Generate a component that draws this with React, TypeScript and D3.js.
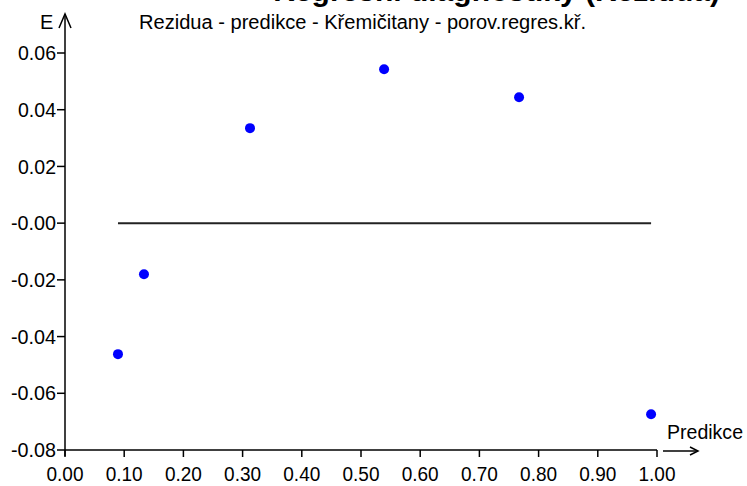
import React from "react";
import * as d3 from "d3";

const predictions = [0.0895, 0.1334, 0.3125, 0.539, 0.767, 0.99];
const residuals = [-0.0462, -0.018, 0.0335, 0.0543, 0.0444, -0.0674];
const xTicks = [0, 0.1, 0.2, 0.3, 0.4, 0.5, 0.6, 0.7, 0.8, 0.9, 1.0];
const yTicks = [-0.08, -0.06, -0.04, -0.02, 0, 0.02, 0.04, 0.06];
const title = "Rezidua - predikce - Křemičitany - porov.regres.kř.";
const topTitle = "Regresní diagnostiky (Rezidua)";
const xLabel = "Predikce";
const yLabel = "E";

const W = 747;
const H = 486;
const FONT = "'Liberation Sans', Arial, sans-serif";

export default function App() {
  const x = d3.scaleLinear().domain([0, 1]).range([65, 657]);
  const y = d3.scaleLinear().domain([-0.08, 0.06]).range([450, 53]);
  const x0 = x(0);
  const yBase = y(-0.08);
  const fmtY = (v: number) =>
    Math.abs(v) < 1e-9 ? "-0.00" : d3.format(".2f")(v).replace("\u2212", "-");
  const fmtX = d3.format(".2f");
  const minP = d3.min(predictions) as number;
  const maxP = d3.max(predictions) as number;

  return (
    <svg
      width={W}
      height={H}
      style={{ position: "absolute", left: 0, top: 0, background: "#fff" }}
      fontFamily={FONT}
    >
      <rect x={0} y={0} width={W} height={H} fill="#fff" />
      {/* clipped bold title at very top */}
      <text x={720} y={1} textAnchor="end" fontSize={30} fontWeight="bold" fill="#000">
        {topTitle}
      </text>
      {/* subtitle */}
      <text x={139} y={29} fontSize={20} fill="#000" textLength={447} lengthAdjust="spacingAndGlyphs">
        {title}
      </text>
      {/* y label */}
      <text x={40} y={29} fontSize={20} fill="#000">
        {yLabel}
      </text>
      {/* y axis */}
      <line x1={x0} x2={x0} y1={14} y2={456} stroke="#000" strokeWidth={1.5} />
      <polyline
        points={`${x0 - 6},28 ${x0},14 ${x0 + 6},28`}
        fill="none"
        stroke="#000"
        strokeWidth={1.5}
      />
      {yTicks.map((t) => (
        <g key={"y" + t}>
          <line x1={x0 - 8} x2={x0} y1={y(t)} y2={y(t)} stroke="#000" strokeWidth={1.5} />
          <text
            x={x0 - 9}
            y={y(t)}
            dy="0.36em"
            textAnchor="end"
            fontSize={20}
            fill="#000"
            textLength={t < 0 || Math.abs(t) < 1e-9 ? 45 : 38}
            lengthAdjust="spacingAndGlyphs"
          >
            {fmtY(t)}
          </text>
        </g>
      ))}
      {/* x axis */}
      <line x1={x0} x2={x(1)} y1={yBase} y2={yBase} stroke="#000" strokeWidth={1.5} />
      {xTicks.map((t) => (
        <g key={"x" + t}>
          <line x1={x(t)} x2={x(t)} y1={yBase} y2={yBase + 7} stroke="#000" strokeWidth={1.5} />
          <text
            x={x(t)}
            y={481}
            textAnchor="middle"
            fontSize={20}
            fill="#000"
            textLength={37}
            lengthAdjust="spacingAndGlyphs"
          >
            {fmtX(t)}
          </text>
        </g>
      ))}
      {/* x arrow */}
      <line x1={x(1) + 6} x2={x(1) + 41} y1={yBase + 1} y2={yBase + 1} stroke="#000" strokeWidth={1.5} />
      <polyline
        points={`${x(1) + 33},${yBase - 3} ${x(1) + 41},${yBase + 1} ${x(1) + 33},${yBase + 5}`}
        fill="none"
        stroke="#000"
        strokeWidth={1.5}
      />
      <text x={667} y={439} fontSize={20} fill="#000" textLength={76} lengthAdjust="spacingAndGlyphs">
        {xLabel}
      </text>
      {/* zero line */}
      <line x1={x(minP)} x2={x(maxP)} y1={y(0)} y2={y(0)} stroke="#222" strokeWidth={2} />
      {/* points */}
      {predictions.map((p, i) => (
        <circle key={i} cx={x(p)} cy={y(residuals[i])} r={5} fill="#0000ff" />
      ))}
    </svg>
  );
}
